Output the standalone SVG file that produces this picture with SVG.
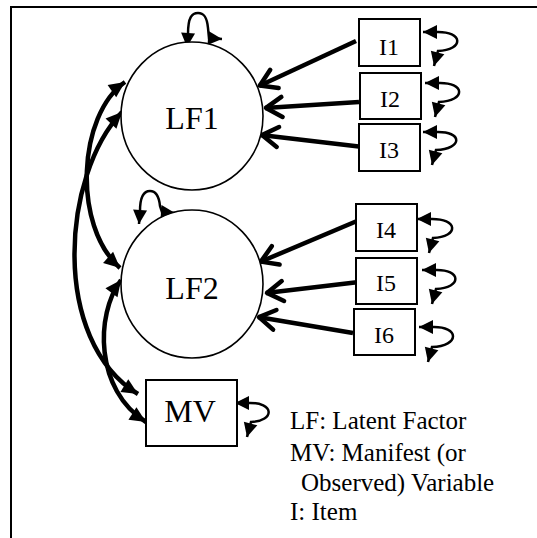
<svg xmlns="http://www.w3.org/2000/svg" width="537" height="538" viewBox="0 0 537 538">
<style>
  .frame{fill:none;stroke:#000;stroke-width:2}
  .lat{fill:#fff;stroke:#000;stroke-width:1.6}
  .box{fill:#fff;stroke:#000;stroke-width:2}
  .lbl{font-family:"Liberation Serif","Times New Roman",serif;fill:#000;text-anchor:middle}
  .big{font-size:32px}
  .item{font-size:24px}
  .legend{font-family:"Liberation Serif","Times New Roman",serif;font-size:25px;fill:#000}
  .load{fill:none;stroke:#000;stroke-width:4.5;marker-end:url(#chev)}
  .cov{fill:none;stroke:#000;stroke-width:4.5;marker-start:url(#triL);marker-end:url(#triL)}
  .var{fill:none;stroke:#000;stroke-width:2.5;marker-start:url(#tri);marker-end:url(#tri)}
</style>
<defs>
  <marker id="tri" markerUnits="userSpaceOnUse" markerWidth="15" markerHeight="15" refX="14" refY="7" orient="auto-start-reverse" overflow="visible">
    <path d="M0,0 L14,7 L0,14 Z" fill="#000"/>
  </marker>
  <marker id="triL" markerUnits="userSpaceOnUse" markerWidth="17" markerHeight="17" refX="16" refY="7.5" orient="auto-start-reverse" overflow="visible">
    <path d="M0,0 L16,7.5 L0,15 Z" fill="#000"/>
  </marker>
  <marker id="chev" markerUnits="userSpaceOnUse" markerWidth="24" markerHeight="24" refX="0" refY="0" orient="auto" overflow="visible">
    <path d="M-17,-10 L-1,0 L-17,10" fill="none" stroke="#000" stroke-width="4.5" stroke-linecap="round" stroke-linejoin="round"/>
  </marker>
</defs>

<path class="frame" d="M11,538 L11,7 L537,7"/>

<g id="connectors">
  <!-- loadings -->
  <path class="load" d="M356,41 L259,86"/>
  <path class="load" d="M359,102 L265,108"/>
  <path class="load" d="M363,147 L261,135"/>
  <path class="load" d="M357,221 L260,262"/>
  <path class="load" d="M359,282 L266,293"/>
  <path class="load" d="M353,333 L258,317"/>
  <!-- covariances -->
  <path class="cov" d="M125,82 C78,115 72,225 120,268"/>
  <path class="cov" d="M122,112 C62,175 50,340 138,394"/>
  <path class="cov" d="M121,280 C95,315 95,390 146,422"/>
  <!-- variances -->
  <path class="var" d="M187,47 L188,34 C188,17 192,13 198,13 C204,13 207,17 208,28 L209,38 L222,39"/>
  <path class="var" d="M139,224 L140,211 C140,196 144,191 150,191 C156,191 159,196 160,206 L162,212 L175,213"/>
  <path class="var" d="M423,32 L436,32 C464,31 464,50 438,51 L434,66"/>
  <path class="var" d="M425,83 L438,83 C466,82 466,101 439,102 L435,117"/>
  <path class="var" d="M423,132 L436,132 C463,131 463,149 436,150 L432,165"/>
  <path class="var" d="M417,219 L430,219 C459,218 459,237 433,238 L429,253"/>
  <path class="var" d="M422,270 L435,270 C462,269 462,288 436,289 L432,304"/>
  <path class="var" d="M419,327 L432,327 C460,326 460,346 432,347 L428,362"/>
  <path class="var" d="M235,403 L248,403 C275,402 275,421 251,422 L247,437"/>
</g>

<g id="LF1">
  <ellipse class="lat" cx="192" cy="116" rx="71" ry="74"/>
  <text class="lbl big" x="192" y="129">LF1</text>
</g>
<g id="LF2">
  <ellipse class="lat" cx="192" cy="284" rx="71" ry="74"/>
  <text class="lbl big" x="192" y="299">LF2</text>
</g>
<g id="MV">
  <rect class="box" x="146" y="380" width="91" height="66"/>
  <text class="lbl big" x="190" y="422">MV</text>
</g>
<g id="I1">
  <rect class="box" x="359" y="19" width="61" height="47"/>
  <text class="lbl item" x="389" y="55">I1</text>
</g>
<g id="I2">
  <rect class="box" x="360" y="73" width="61" height="46"/>
  <text class="lbl item" x="390" y="107">I2</text>
</g>
<g id="I3">
  <rect class="box" x="359" y="124" width="61" height="47"/>
  <text class="lbl item" x="389" y="158">I3</text>
</g>
<g id="I4">
  <rect class="box" x="356" y="204" width="61" height="47"/>
  <text class="lbl item" x="386" y="238">I4</text>
</g>
<g id="I5">
  <rect class="box" x="356" y="258" width="61" height="46"/>
  <text class="lbl item" x="386" y="291">I5</text>
</g>
<g id="I6">
  <rect class="box" x="354" y="309" width="61" height="46"/>
  <text class="lbl item" x="384" y="343">I6</text>
</g>

<g id="legend">
  <text class="legend" x="290" y="429">LF: Latent Factor</text>
  <text class="legend" x="290" y="461">MV: Manifest (or</text>
  <text class="legend" x="301" y="491">Observed) Variable</text>
  <text class="legend" x="290" y="520">I: Item</text>
</g>
</svg>
